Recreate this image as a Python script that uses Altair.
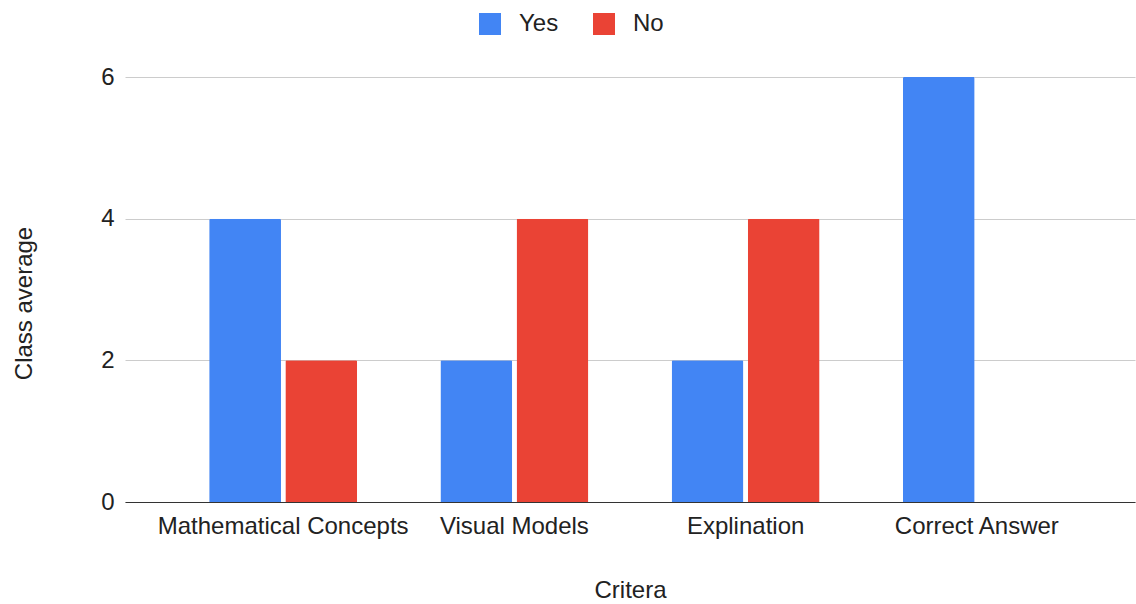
import altair as alt
import pandas as pd

categories = ["Mathematical Concepts", "Visual Models", "Explination", "Correct Answer"]
yes_values = [4, 2, 2, 6]
no_values = [2, 4, 4, 0]
series = ["Yes", "No"]
colors = ["#4285F4", "#EA4335"]

rows = []
for c, y, n in zip(categories, yes_values, no_values):
    rows.append({"Critera": c, "Series": "Yes", "Value": y})
    rows.append({"Critera": c, "Series": "No", "Value": n})
df = pd.DataFrame(rows)

FONT = "Liberation Sans"
TXT = "#222222"

chart = alt.Chart(df).mark_bar(cornerRadiusTopLeft=1.5, cornerRadiusTopRight=1.5).encode(
    x=alt.X("Critera:N", sort=categories,
            scale=alt.Scale(paddingInner=0.36, paddingOuter=0.364),
            axis=alt.Axis(title="Critera", labelAngle=0, ticks=False, labelLimit=0,
                          domainColor="#333333", labelPadding=12,
                          labelFontSize=24, labelFont=FONT, labelColor=TXT,
                          titleFontSize=24, titleFont=FONT, titleColor=TXT,
                          titleFontWeight="normal", titleBaseline="middle",
                          titleX=505, titleY=88)),
    xOffset=alt.XOffset("Series:N", sort=series,
                        scale=alt.Scale(paddingInner=0.057, paddingOuter=0)),
    y=alt.Y("Value:Q", scale=alt.Scale(domain=[0, 6], nice=False),
            axis=alt.Axis(title="Class average", values=[0, 2, 4, 6], ticks=False,
                          domain=False, gridColor="#cccccc", labelPadding=11,
                          labelFontSize=24, labelFont=FONT, labelColor=TXT,
                          titleFontSize=24, titleFont=FONT, titleColor=TXT,
                          titleFontWeight="normal", titleBaseline="middle",
                          titleX=-101, titleY=226)),
    color=alt.Color("Series:N", sort=series,
                    scale=alt.Scale(domain=series, range=colors),
                    legend=alt.Legend(title=None, orient="none", direction="horizontal",
                                      legendX=353, legendY=-65,
                                      symbolType="square", symbolSize=484,
                                      symbolStrokeWidth=0, labelFontSize=24,
                                      labelFont=FONT, labelColor=TXT,
                                      labelOffset=17, columnPadding=33)),
).properties(
    width=1010, height=425,
    autosize=alt.AutoSizeParams(type="none"),
    padding={"left": 125, "top": 77, "right": 1, "bottom": 102},
).configure_view(stroke=None)

chart.save("out.html", embed_options={"renderer": "svg", "actions": False})
